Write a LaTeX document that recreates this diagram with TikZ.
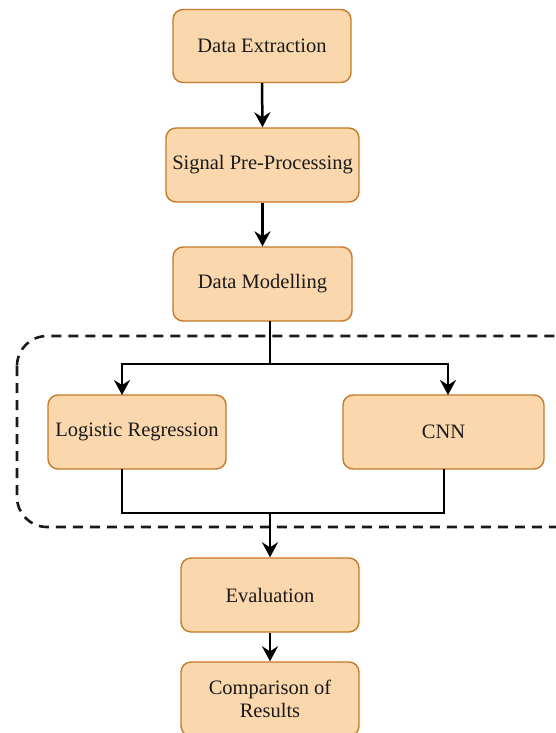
\documentclass[tikz,border=0pt]{standalone}
\usepackage{fontspec}
\setmainfont{Liberation Serif}
\usetikzlibrary{arrows.meta}
\definecolor{boxfill}{HTML}{FAD7AC}
\definecolor{boxline}{HTML}{C47A26}
\definecolor{txt}{HTML}{1A1A1A}
\begin{document}
\begin{tikzpicture}[x=1pt,y=-1pt,
  stepbox/.style={draw=boxline, fill=boxfill, line width=1.4pt, rounded corners=10pt, inner sep=0pt,
    font=\fontsize{20.5}{23}\selectfont, text=txt, align=center},
  conn/.style={line width=2.5pt, draw=black},
  arr/.style={conn, -{Stealth[length=15pt,width=16pt,inset=5pt]}}]
\useasboundingbox (0,0) rectangle (556,733);
\begin{scope}
\clip (0,0) rectangle (556,733);
% dashed group
\draw[line width=2.6pt, dash pattern=on 10pt off 7pt, rounded corners=30pt, draw=black!90] (17,336) rectangle (588,527);
% boxes
\node[stepbox, minimum width=178pt, minimum height=73pt] (ext) at (262,46) {Data Extraction};
\node[stepbox, minimum width=193pt, minimum height=74pt] (sig) at (262.5,165) {Signal Pre-Processing};
\node[stepbox, minimum width=179pt, minimum height=74pt] (mod) at (262.5,284) {Data Modelling};
\node[stepbox, minimum width=178pt, minimum height=74pt] (lr) at (137,432) {Logistic Regression};
\node[stepbox, minimum width=201pt, minimum height=74pt] (cnn) at (443.5,432) {CNN};
\node[stepbox, minimum width=178pt, minimum height=74pt] (ev) at (270,595) {Evaluation};
\node[stepbox, minimum width=178pt, minimum height=74pt] (cmp) at (270,699) {Comparison of\\Results};
% coordinates
\coordinate (modb) at (270,321);
\coordinate (split) at (270,364);
\coordinate (lrtop) at (122,395);
\coordinate (cnntop) at (448,395);
\coordinate (lrbot) at (122,469);
\coordinate (cnnbot) at (444,469);
\coordinate (merge) at (270,513);
% connectors
\draw[arr] (ext.south) -- (sig.north);
\draw[arr] (sig.south) -- (mod.north);
\draw[conn] (modb) -- (split);
\draw[arr] (split) -| (lrtop);
\draw[arr] (split) -| (cnntop);
\draw[conn] (lrbot) |- (merge);
\draw[conn] (cnnbot) |- (merge);
\draw[arr] (merge) -- (ev.north);
\draw[arr] (ev.south) -- (cmp.north);
\end{scope}
\end{tikzpicture}
\end{document}
